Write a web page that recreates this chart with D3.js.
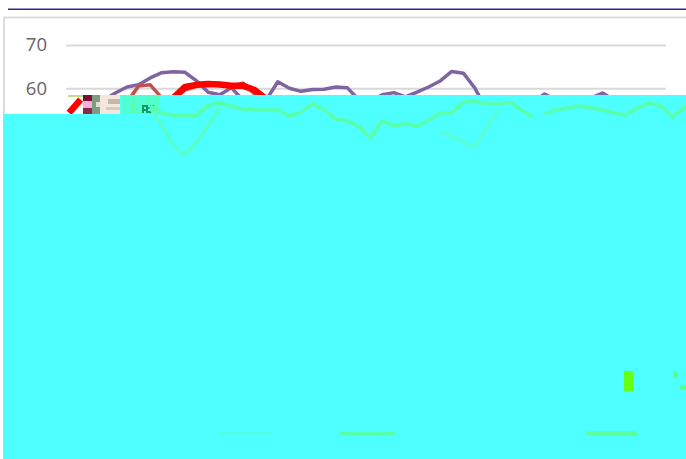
<!DOCTYPE html>
<html>
<head>
<meta charset="utf-8">
<script src="https://cdn.jsdelivr.net/npm/d3@7"></script>
<style>html,body{margin:0;padding:0;background:#fff;overflow:hidden}svg{display:block}</style>
</head>
<body>
<svg id="c" width="686" height="459"></svg>
<script>
const yTicks = [60, 70];
const pointCount = 55;
const purple = [null,null,null,57.3,58.9,60.3,60.8,62.4,63.6,63.8,63.7,61.7,59.1,58.5,60.1,57.3,56.1,57.3,61.5,60,59.3,59.7,59.8,60.3,60.1,57.3,57,58.5,59,58,59.1,60.3,61.7,63.9,63.5,60,55,54.5,55,55.5,56.8,58.7,57.3,56.1,56.8,57.8,58.9,57.3,56.1,56.1,56.4,56.1,56.1,56.1,56.1];
const redThick = [54.3,57.4,null,null,null,null,null,null,null,57.8,60.3,60.8,61,60.9,60.6,60.6,59.6,57.5];
const redThin = [null,null,null,null,null,56.8,60.5,60.8,57.8,57.3,59.6,60.5,60.8,60.8,60.5,61.2,58.7,57.3];
const greenA = [null,null,null,null,null,null,null,55.9,54.3,53.8,53.8,53.8,56.1,56.6,55.9,55.2,55,55,55,53.6,54.5,56.4,55,52.9,52.5,51.1,48.5,52.5,51.3,51.8,51.3,52.7,54.3,54.3,56.8,57,56.4,56.4,56.8,55,53.4];
const greenB = [54.1,55,55.5,55.9,55.5,55,54.3,53.8,55.5,56.6,55.9,53.4,55.5,55.9];
const greenBStart = 41;
const dipA = [55.5,51.5,46.9,44.6,47.6,51.5,55.5];
const dipAStart = 7;
const dipB = [49.9,49,47.5,46.4,51,55];
const dipBStart = 32;

const svg = d3.select("#c");
const x = d3.scaleLinear().domain([0, pointCount - 1]).range([69, 695.4]);
const y = d3.scaleLinear().domain([60, 70]).range([88.3, 45]);
const line = (start = 0) => d3.line()
  .defined(d => d !== null)
  .x((d, i) => x(i + start))
  .y(d => y(d))
  .curve(d3.curveLinear);

// header rule and card frame
svg.append("rect").attr("x", 8).attr("y", 8.5).attr("width", 678).attr("height", 1.5).attr("fill", "#2a2a92");
svg.append("path").attr("d", "M4,114V17.5H686").attr("fill", "none").attr("stroke", "#dcdcdc").attr("stroke-width", 2);

// y axis
const axis = svg.append("g").attr("transform", "translate(66,0)")
  .call(d3.axisLeft(y).tickValues(yTicks).tickSize(-600).tickPadding(19));
axis.select(".domain").remove();
axis.selectAll("line").attr("stroke", "#d9d9d9").attr("stroke-width", 2);
axis.selectAll("text").attr("fill", "#666").attr("font-family", "'Open Sans',sans-serif").attr("font-size", 18.5);

// lines that disappear under the overlay
const draw = (values, color, width, start = 0) => svg.append("path").datum(values)
  .attr("d", line(start)).attr("fill", "none").attr("stroke", color)
  .attr("stroke-width", width).attr("stroke-linejoin", "round");
draw(purple, "#8064a2", 3.5);
draw(redThin, "#c0504d", 3.5);
draw(redThick, "#ff0000", 6.5);

// corrupted overlay
const blocks = [
  [68,95,17,2,"#c6d98a"],[83,95,9,6,"#7a0f34"],[83,101,9,7,"#f7b0da"],[83,108,9,6,"#8a2a4a"],
  [92,95,8,19,"#7f9a80"],[96,102,4,5,"#d8e4d0"],
  [100,95,22,19,"#f3e6dc"],[108,99,12,5,"#c7b9a8"],[106,107,14,3,"#d9c8bc"],
  [120,95,566,19,"#4dffff"],[3,114,683,345,"#4dffff"],
  [122,95,38,19,"#50ffd2"],[132,97,3,17,"#58ffb0"],[147,96,3,9,"#58ffb0"],[155,96,3,9,"#58ffb0"],
  [142,105,12,8,"#1e9a58"],[144,107,2,2,"#4dffff"],[148,105,2,2,"#4dffff"],[148,109,2,2,"#4dffff"],[151,107,2,2,"#4dffff"],[144,111,2,2,"#4dffff"]
];
svg.append("g").selectAll("rect").data(blocks).join("rect")
  .attr("x", d => d[0]).attr("y", d => d[1]).attr("width", d => d[2]).attr("height", d => d[3]).attr("fill", d => d[4]);

// lines still visible on the overlay
draw(dipA, "#58ffc6", 3.5, dipAStart);
draw(dipB, "#58ffd4", 3.5, dipBStart);
draw(greenA, "#5affa8", 3.5);
draw(greenB, "#5affa8", 3.5, greenBStart);

// stray marks on the overlay
const marks = [
  [624,371,9,20,"#66ff14"],[673,371,4,6,"#58ff8a"],[680,385,6,5,"#58ff8a"],
  [585,431,52,4,"#5cff9c"],[340,432,55,3,"#56ffa8"],[220,432,52,2,"#52ffd8"]
];
svg.append("g").selectAll("rect").data(marks).join("rect")
  .attr("x", d => d[0]).attr("y", d => d[1]).attr("width", d => d[2]).attr("height", d => d[3]).attr("fill", d => d[4]);
</script>
</body>
</html>
